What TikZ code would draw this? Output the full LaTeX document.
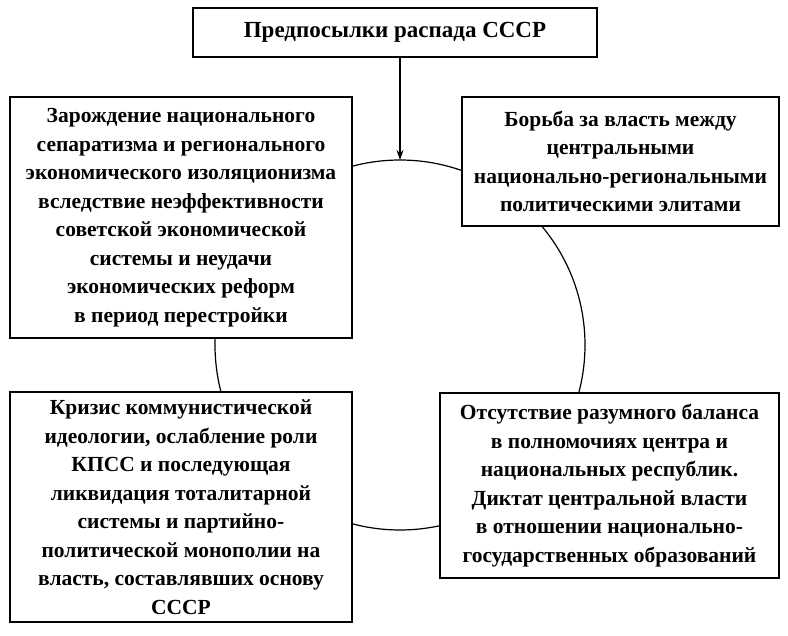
\documentclass[tikz,border=0pt]{standalone}
\usepackage{fontspec}
\setmainfont{Liberation Serif}
\usetikzlibrary{arrows.meta}
\begin{document}
\begin{tikzpicture}[x=1pt,y=-1pt,
  box/.style={draw,line width=1.6pt,fill=white,align=center,inner sep=0pt,font=\fontsize{21.5}{28.5}\selectfont\bfseries}]
\useasboundingbox (0,0) rectangle (788,636);
\draw[line width=1.2pt] (400,345) circle (185);
\node[box,minimum width=404,minimum height=49,font=\fontsize{23}{28}\selectfont\bfseries] (top) at (395,32.5) {Предпосылки распада СССР};
\node[box,minimum width=342,minimum height=241] (lt) at (181,217.5) {Зарождение национального\\сепаратизма и регионального\\экономического изоляционизма\\вследствие неэффективности\\советской экономической\\системы и неудачи\\экономических реформ\\в период перестройки};
\node[box,minimum width=317,minimum height=129] (rt) at (620.5,161.5) {Борьба за власть между\\центральными\\национально-региональными\\политическими элитами};
\node[box,minimum width=342,minimum height=230] (lb) at (181,507) {Кризис коммунистической\\идеологии, ослабление роли\\КПСС и последующая\\ликвидация тоталитарной\\системы и партийно-\\политической монополии на\\власть, составлявших основу\\СССР};
\node[box,minimum width=339,minimum height=185] (rb) at (609.5,485.5) {Отсутствие разумного баланса\\в полномочиях центра и\\национальных республик.\\Диктат центральной власти\\в отношении национально-\\государственных образований};
\coordinate (ct) at (400,160);
\draw[line width=1.2pt,-{Stealth[length=10pt,width=7pt]}] (top.south -| ct) -- (ct);
\end{tikzpicture}
\end{document}
